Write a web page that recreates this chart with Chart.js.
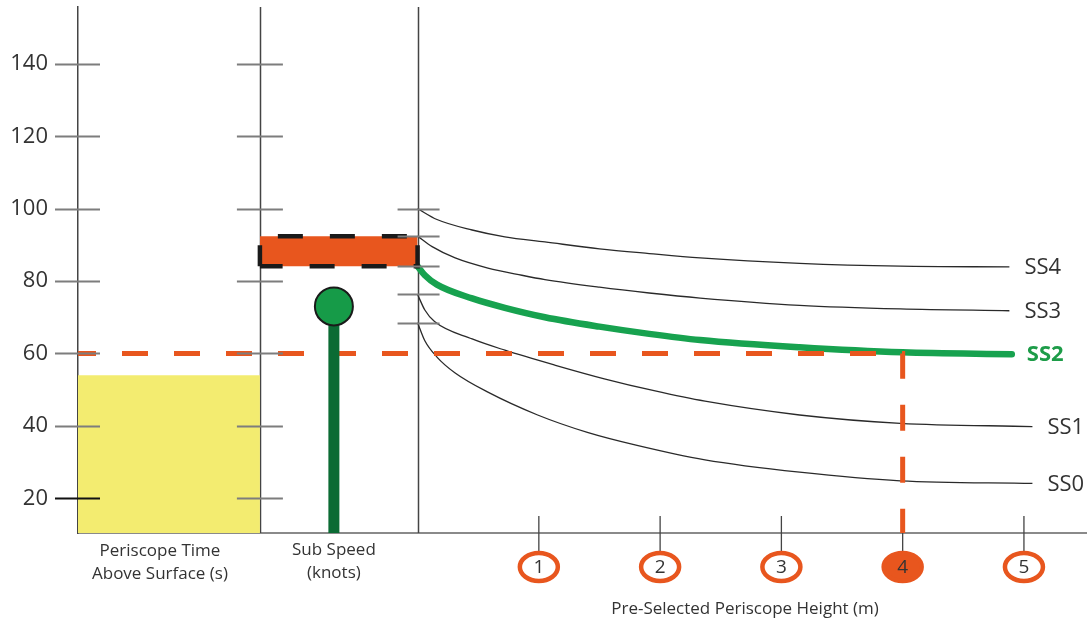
<!DOCTYPE html>
<html>
<head>
<meta charset="utf-8">
<script src="https://cdn.jsdelivr.net/npm/chart.js@4.4.1/dist/chart.umd.min.js"></script>
<style>
  html, body { margin: 0; padding: 0; background: #ffffff; }
  #wrap { width: 1087px; height: 625px; position: relative; }
</style>
</head>
<body>
<div id="wrap"><canvas id="c" width="1087" height="625"></canvas></div>
<script>
// ---------------- DATA ----------------
const yTickValues = [20, 40, 60, 80, 100, 120, 140];
const heightTicks = [1, 2, 3, 4, 5];
const heightTickLabels = ['1', '2', '3', '4', '5'];
const selectedHeight = 4;           // m
const selectedTime = 60;            // s (dashed reading line)
const periscopeTime = 54;           // yellow block top
const subSpeed = 73;                // lollipop top
const speedBand = [84.1, 92.4];     // orange band (SS2 start .. SS3 start)
const seriesNames = ['SS4', 'SS3', 'SS2', 'SS1', 'SS0'];

// sea-state curves: [periscope height (m), time (s)]
const ss4 = [[0,100],[0.16,97],[0.45,94.1],[0.72,92.2],[1.05,90.8],[1.5,88.9],[1.91,87.6],[2.33,86.4],[3.15,84.9],[3.98,84.1],[4.88,83.9]];
const ss3 = [[0,92.4],[0.12,89.5],[0.31,86.4],[0.58,83.6],[0.86,81.6],[1.05,80.4],[1.5,78.3],[1.91,76.7],[2.33,75.3],[3.15,73.3],[3.98,72.3],[4.88,71.8]];
const ss2 = [[0,84.1],[0.06,81.6],[0.16,79.0],[0.45,75.2],[0.72,72.6],[1.05,70.0],[1.5,67.4],[1.91,65.4],[2.33,63.7],[3.15,61.7],[4,60.3],[4.9,59.8]];
const ss1 = [[0,76.3],[0.06,72.0],[0.14,68.8],[0.45,64.0],[0.72,60.9],[1.13,56.8],[1.54,53.0],[1.95,49.7],[2.37,46.8],[3.15,43.0],[3.98,40.7],[5.07,39.8]];
const ss0 = [[0,68.5],[0.06,63.5],[0.16,59.0],[0.31,54.6],[0.58,49.3],[0.99,43.0],[1.4,38.2],[1.81,34.6],[2.37,30.6],[3.15,27.2],[3.98,24.8],[5.07,24.1]];

// ---------------- LAYOUT CONSTANTS (axis units) ----------------
const X_MIN = -2.8, TIME_PANEL_END = -1.3, SPEED_POS = -0.69, HEIGHT_AXIS = 0, X_MAX = 5.52;
const Y_MIN = 10.4, Y_MAX = 155.7;

const ORANGE = '#e8561e', YELLOW = '#f3ec70', GREEN = '#17a24f', DARKGREEN = '#0b6b34';
const FONT = '"Open Sans", "Noto Sans", sans-serif';

const pts = a => a.map(p => ({ x: p[0], y: p[1] }));
function mk(points, extra) {
  return Object.assign({
    data: pts(points), pointRadius: 0, pointHoverRadius: 0, borderWidth: 1.3,
    borderColor: '#2a2a2a', fill: false, tension: 0
  }, extra);
}
const curve = (arr, extra) => mk(arr, Object.assign({ cubicInterpolationMode: 'monotone', order: 7 }, extra));

const datasets = [
  mk([[SPEED_POS, subSpeed]], { pointRadius: 19, pointHoverRadius: 19, pointBackgroundColor: '#169b48',
       pointBorderColor: '#1a1a1a', pointBorderWidth: 2, showLine: false, order: 0 }),
  mk([[SPEED_POS, Y_MIN], [SPEED_POS, subSpeed]], { borderColor: DARKGREEN, borderWidth: 11, borderCapStyle: 'butt', order: 1 }),
  mk([[HEIGHT_AXIS, speedBand[1]], [HEIGHT_AXIS, speedBand[0]], [TIME_PANEL_END, speedBand[0]]],
     { borderColor: '#1a1a1a', borderWidth: 4.5, borderDash: [25, 27], borderDashOffset: 43, borderCapStyle: 'butt', order: 2 }),
  mk([[TIME_PANEL_END, speedBand[0]], [TIME_PANEL_END, speedBand[1]], [HEIGHT_AXIS, speedBand[1]]],
     { borderColor: '#1a1a1a', borderWidth: 4.5, borderDash: [25, 27], borderDashOffset: 4, borderCapStyle: 'butt', order: 2 }),
  mk([[X_MIN, selectedTime], [selectedHeight, selectedTime], [selectedHeight, Y_MIN]],
     { borderColor: ORANGE, borderWidth: 5, borderDash: [26, 26], borderDashOffset: 8, borderCapStyle: 'butt', order: 3 }),
  curve(ss2, { borderColor: GREEN, borderWidth: 6.5, borderCapStyle: 'round', order: 4 }),
  mk([[TIME_PANEL_END, speedBand[1]], [HEIGHT_AXIS, speedBand[1]]],
     { borderWidth: 0, fill: { value: speedBand[0] }, backgroundColor: ORANGE, order: 5 }),
  curve(ss4), curve(ss3), curve(ss1), curve(ss0),
  mk([[X_MIN, periscopeTime], [TIME_PANEL_END, periscopeTime]],
     { borderWidth: 0, fill: 'start', backgroundColor: YELLOW, order: 9 })
];

const curveSets = [ss4, ss3, ss2, ss1, ss0];

const decor = {
  id: 'decor',
  beforeDatasetsDraw(chart) {
    const { ctx, chartArea: a, scales: { x } } = chart;
    ctx.save();
    ctx.strokeStyle = '#444';
    ctx.lineWidth = 1.5;
    [TIME_PANEL_END, HEIGHT_AXIS].forEach(v => {
      const px = Math.round(x.getPixelForValue(v)) + 0.5;
      ctx.beginPath(); ctx.moveTo(px, a.top); ctx.lineTo(px, a.bottom); ctx.stroke();
    });
    ctx.restore();
  },
  afterDatasetsDraw(chart) {
    const { ctx, chartArea: a, scales: { x, y } } = chart;
    ctx.save();
    ctx.lineWidth = 1.8;
    // tick crosses on the time axes
    const leftPx = x.getPixelForValue(X_MIN), midPx = x.getPixelForValue(TIME_PANEL_END), rightPx = x.getPixelForValue(HEIGHT_AXIS);
    yTickValues.forEach(v => {
      const py = Math.round(y.getPixelForValue(v)) + 0.5;
      ctx.strokeStyle = v === 20 ? '#111' : '#7d7d7d';
      ctx.beginPath(); ctx.moveTo(leftPx - 23, py); ctx.lineTo(leftPx + 22, py); ctx.stroke();
      ctx.strokeStyle = '#7d7d7d';
      ctx.beginPath(); ctx.moveTo(midPx - 23, py); ctx.lineTo(midPx + 23, py); ctx.stroke();
    });
    ctx.strokeStyle = '#7d7d7d';
    curveSets.forEach(c => {
      const py = Math.round(y.getPixelForValue(c[0][1])) + 0.5;
      ctx.beginPath(); ctx.moveTo(rightPx - 20, py); ctx.lineTo(rightPx + 22, py); ctx.stroke();
    });
    // height ticks + circled labels
    const axisY = a.bottom;
    heightTicks.forEach((h, i) => {
      const px = x.getPixelForValue(h);
      ctx.strokeStyle = '#444'; ctx.lineWidth = 1.3;
      ctx.beginPath();
      ctx.moveTo(px, h === selectedHeight ? axisY : axisY - 17);
      ctx.lineTo(px, axisY + 19); ctx.stroke();
      ctx.beginPath();
      ctx.ellipse(px, 567, 19, 14, 0, 0, Math.PI * 2);
      ctx.fillStyle = h === selectedHeight ? ORANGE : '#fff';
      ctx.fill();
      ctx.lineWidth = 4.5; ctx.strokeStyle = ORANGE; ctx.stroke();
      ctx.fillStyle = '#333';
      ctx.font = '19px ' + FONT;
      ctx.textAlign = 'center'; ctx.textBaseline = 'middle';
      ctx.fillText(heightTickLabels[i], px, 568);
    });
    // curve labels
    curveSets.forEach((c, i) => {
      const last = c[c.length - 1];
      const px = x.getPixelForValue(last[0]) + 15, py = y.getPixelForValue(last[1]);
      const green = seriesNames[i] === 'SS2';
      ctx.fillStyle = green ? '#1d9c48' : '#333';
      ctx.font = (green ? 'bold ' : '') + '22px ' + FONT;
      ctx.textAlign = 'left'; ctx.textBaseline = 'middle';
      ctx.fillText(seriesNames[i], px, py + 1);
    });
    // axis captions
    ctx.fillStyle = '#333';
    ctx.font = '17px ' + FONT;
    ctx.textAlign = 'center'; ctx.textBaseline = 'middle';
    const tc = (leftPx + midPx) / 2 - 9;
    ctx.fillText('Periscope Time', tc, 551);
    ctx.fillText('Above Surface (s)', tc, 574);
    const sc = x.getPixelForValue(SPEED_POS);
    ctx.fillText('Sub Speed', sc, 550);
    ctx.fillText('(knots)', sc, 573);
    ctx.fillText('Pre-Selected Periscope Height (m)', x.getPixelForValue(2.7), 609);
    ctx.restore();
  }
};

new Chart(document.getElementById('c'), {
  type: 'line',
  data: { datasets },
  options: {
    responsive: false,
    animation: false,
    events: [],
    layout: { autoPadding: false, padding: { top: 7, right: 0, left: 0, bottom: 0 } },
    plugins: { legend: { display: false }, tooltip: { enabled: false } },
    scales: {
      x: {
        type: 'linear', min: X_MIN, max: X_MAX,
        grid: { display: false, drawTicks: false },
        ticks: { display: false },
        border: { display: true, color: '#8a8a8a', width: 2 },
        afterFit(s) { s.height = 92; s.paddingLeft = 0; s.paddingRight = 0; }
      },
      y: {
        type: 'linear', min: Y_MIN, max: Y_MAX,
        afterBuildTicks(s) { s.ticks = yTickValues.map(v => ({ value: v })); },
        grid: { display: false, drawTicks: false },
        border: { display: true, color: '#444', width: 1.5 },
        ticks: { autoSkip: false, padding: 30, color: '#333', font: { family: FONT, size: 22 } },
        afterFit(s) { s.width = 78; s.paddingTop = 0; s.paddingBottom = 0; }
      }
    }
  },
  plugins: [decor]
});
</script>
</body>
</html>
